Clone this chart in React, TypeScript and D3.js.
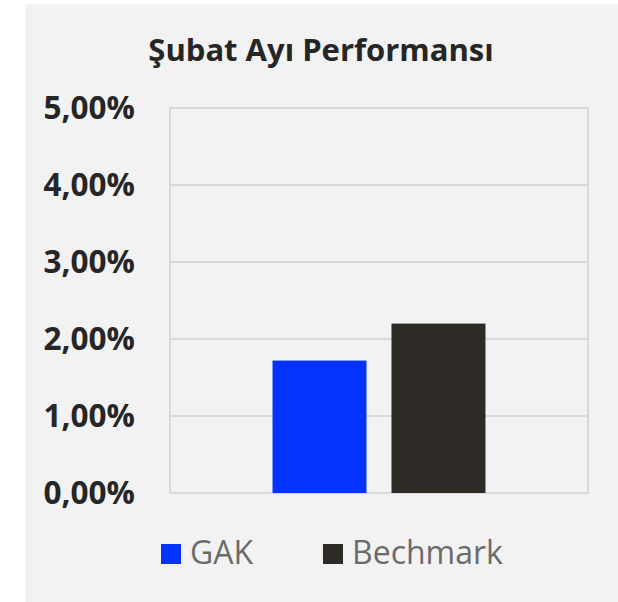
import { useRef, useEffect } from 'react';
import * as d3 from 'd3';

const categories = ['Şubat'];
const seriesNames = ['GAK', 'Bechmark'];
const seriesValues = [1.72, 2.2];
const seriesColors = ['#0433FF', '#2E2A25'];
const yTicks = [0, 1, 2, 3, 4, 5];

const WIDTH = 618;
const HEIGHT = 602;

export default function App() {
  const svgRef = useRef<SVGSVGElement>(null);

  useEffect(() => {
    if (!svgRef.current) return;
    const svg = d3.select(svgRef.current);
    svg.selectAll('*').remove();

    const font = "'Open Sans', 'DejaVu Sans', sans-serif";
    const margin = { top: 108, right: 30, bottom: 109, left: 170 };
    const innerWidth = WIDTH - margin.left - margin.right;
    const innerHeight = HEIGHT - margin.top - margin.bottom;

    // panel background
    svg.append('rect')
      .attr('x', 25).attr('y', 4)
      .attr('width', WIDTH - 25).attr('height', HEIGHT - 4)
      .attr('fill', '#F2F2F2');

    svg.append('text')
      .attr('x', 321).attr('y', 61)
      .attr('text-anchor', 'middle')
      .attr('font-family', font)
      .attr('font-weight', 700)
      .attr('font-size', 31)
      .attr('fill', '#262626')
      .text('Şubat Ayı Performansı');

    const g = svg.append('g').attr('transform', `translate(${margin.left},${margin.top})`);

    const y = d3.scaleLinear().domain([0, 5]).range([innerHeight, 0]);
    const x0 = d3.scaleBand().domain(categories).range([0, innerWidth]).paddingInner(0.325).paddingOuter(0.325);
    const x1 = d3.scaleBand().domain(seriesNames).range([0, x0.bandwidth()]).paddingInner(0.21);

    // grid lines
    g.append('g')
      .selectAll('line')
      .data(yTicks)
      .join('line')
      .attr('x1', 0).attr('x2', innerWidth)
      .attr('y1', (d) => y(d)).attr('y2', (d) => y(d))
      .attr('stroke', '#D9D9D9')
      .attr('stroke-width', 2);

    // plot area border sides
    g.append('rect')
      .attr('x', 0).attr('y', 0)
      .attr('width', innerWidth).attr('height', innerHeight)
      .attr('fill', 'none')
      .attr('stroke', '#D9D9D9')
      .attr('stroke-width', 2);

    // y tick labels
    g.append('g')
      .selectAll('text')
      .data(yTicks)
      .join('text')
      .attr('x', -35)
      .attr('y', (d) => y(d))
      .attr('dy', '0.36em')
      .attr('text-anchor', 'end')
      .attr('font-family', font)
      .attr('font-weight', 700)
      .attr('font-size', 31.5)
      .attr('fill', '#262626')
      .text((d) => d3.format('.2f')(d).replace('.', ',') + '%');

    // bars
    const cat = g.append('g').attr('transform', `translate(${x0(categories[0])},0)`);
    cat.selectAll('rect')
      .data(seriesNames.map((name, i) => ({ name, value: seriesValues[i], color: seriesColors[i] })))
      .join('rect')
      .attr('x', (d) => x1(d.name) || 0)
      .attr('y', (d) => y(d.value))
      .attr('width', x1.bandwidth())
      .attr('height', (d) => innerHeight - y(d.value))
      .attr('fill', (d) => d.color);

    // legend
    const legendX = [161, 323];
    const legend = svg.append('g')
      .selectAll('g')
      .data(seriesNames)
      .join('g')
      .attr('transform', (d, i) => `translate(${legendX[i]},544)`);
    legend.append('rect')
      .attr('width', 20).attr('height', 20)
      .attr('fill', (d, i) => seriesColors[i]);
    legend.append('text')
      .attr('x', 29).attr('y', 20)
      .attr('font-family', font)
      .attr('font-size', 32)
      .attr('fill', '#6B6B6B')
      .text((d) => d);
  }, []);

  return (
    <svg
      ref={svgRef}
      width={WIDTH}
      height={HEIGHT}
      style={{ position: 'absolute', left: 0, top: 0 }}
    />
  );
}
